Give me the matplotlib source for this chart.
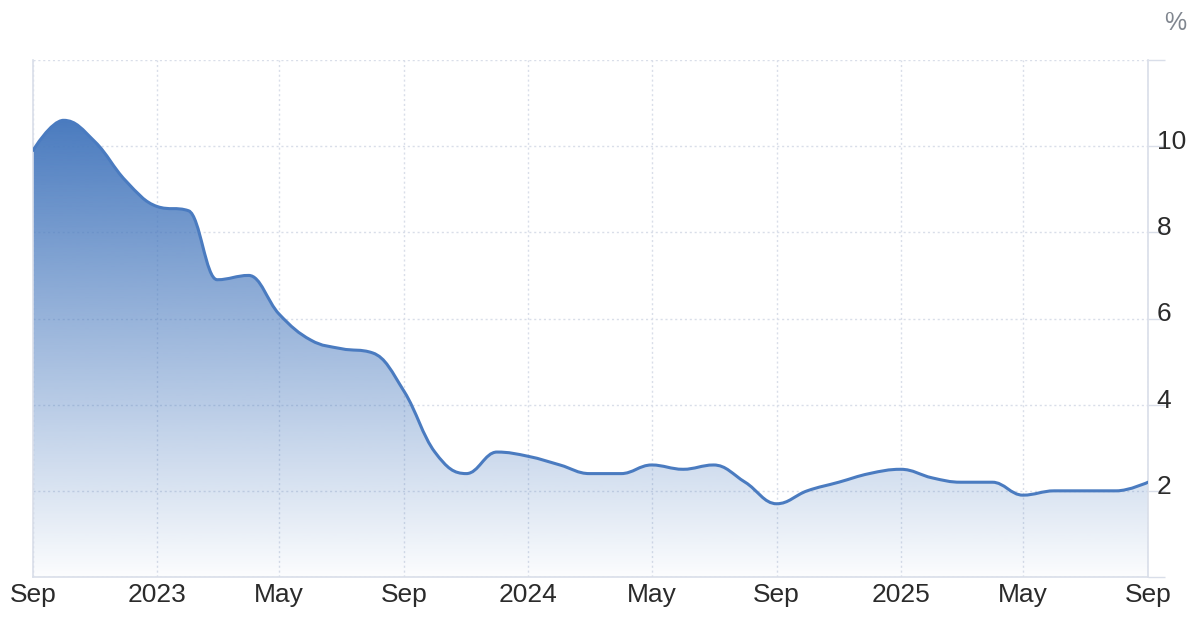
import numpy as np
import pandas as pd
import matplotlib
matplotlib.use('Agg')
import matplotlib.pyplot as plt
import matplotlib.dates as mdates
import matplotlib.transforms as mtransforms
from matplotlib.path import Path
from matplotlib.patches import PathPatch
from matplotlib.colors import to_rgb

# Data
# --------------------------------------------------------------------------
months = pd.date_range('2022-09-01', '2025-09-01', freq='MS')
rate = [9.9, 10.6, 10.1, 9.2,
        8.6, 8.5, 6.9, 7.0, 6.1, 5.5, 5.3, 5.2, 4.3, 2.9, 2.4, 2.9,
        2.8, 2.6, 2.4, 2.4, 2.6, 2.5, 2.6, 2.2, 1.7, 2.0, 2.2, 2.4,
        2.5, 2.3, 2.2, 2.2, 1.9, 2.0, 2.0, 2.0, 2.2]
tick_dates = ['2022-09-01', '2023-01-01', '2023-05-01', '2023-09-01',
              '2024-01-01', '2024-05-01', '2024-09-01', '2025-01-01',
              '2025-05-01', '2025-09-01']
tick_labels = ['Sep', '2023', 'May', 'Sep', '2024', 'May', 'Sep', '2025', 'May', 'Sep']
y_ticks = [0, 2, 4, 6, 8, 10, 12]
y_labels = ['', '2', '4', '6', '8', '10', '']
# --------------------------------------------------------------------------

line_color = '#4a7bc0'
grid_color = '#d9dee9'
text_color = '#2b2b2b'
plt.rcParams['font.family'] = ['Liberation Sans', 'DejaVu Sans']


def spline_path(x, y, smoothing=1.5):
    # smooth path through the points, control points placed like a chart spline
    n = len(x)
    denom = smoothing + 1
    lc = [None] * n
    rc = [None] * n
    for i in range(1, n - 1):
        px, py = x[i], y[i]
        lx, ly = x[i - 1], y[i - 1]
        nx, ny = x[i + 1], y[i + 1]
        lcx = (smoothing * px + lx) / denom
        lcy = (smoothing * py + ly) / denom
        rcx = (smoothing * px + nx) / denom
        rcy = (smoothing * py + ny) / denom
        corr = 0
        if rcx != lcx:
            corr = (rcy - lcy) * (rcx - px) / (rcx - lcx) + py - rcy
        lcy += corr
        rcy += corr
        if lcy > ly and lcy > py:
            lcy = max(ly, py)
            rcy = 2 * py - lcy
        elif lcy < ly and lcy < py:
            lcy = min(ly, py)
            rcy = 2 * py - lcy
        if rcy > ny and rcy > py:
            rcy = max(ny, py)
            lcy = 2 * py - rcy
        elif rcy < ny and rcy < py:
            rcy = min(ny, py)
            lcy = 2 * py - rcy
        lc[i] = (lcx, lcy)
        rc[i] = (rcx, rcy)
    verts = [(x[0], y[0])]
    codes = [Path.MOVETO]
    for i in range(1, n):
        c1 = rc[i - 1] if rc[i - 1] is not None else (x[i - 1], y[i - 1])
        c2 = lc[i] if lc[i] is not None else (x[i], y[i])
        verts += [c1, c2, (x[i], y[i])]
        codes += [Path.CURVE4] * 3
    return verts, codes


xs = mdates.date2num(months.to_pydatetime())
ys = np.array(rate, dtype=float)

fig = plt.figure(figsize=(11.96, 6.27), dpi=100)
ax = fig.add_axes([33 / 1196, 50 / 627, (1148 - 33) / 1196, (577 - 60) / 627])

verts, codes = spline_path(xs, ys)

# area with vertical gradient
area_verts = verts + [(xs[-1], 0), (xs[0], 0), (xs[0], ys[0])]
area_codes = codes + [Path.LINETO, Path.LINETO, Path.CLOSEPOLY]
area = PathPatch(Path(area_verts, area_codes), facecolor='none', edgecolor='none')
ax.add_patch(area)
r, g, b = to_rgb('#4a7bbf')
alpha = np.linspace(0.02, 1.0, 256)[:, None]
grad = np.zeros((256, 1, 4))
grad[..., 0] = r
grad[..., 1] = g
grad[..., 2] = b
grad[..., 3] = alpha
im = ax.imshow(grad, extent=[xs[0], xs[-1], 0, ys.max()], origin='lower',
               aspect='auto', interpolation='bilinear', zorder=2)
im.set_clip_path(area)

line = PathPatch(Path(verts, codes), facecolor='none', edgecolor=line_color,
                 lw=2.2, capstyle='round', joinstyle='round', zorder=3)
ax.add_patch(line)

ax.set_xlim(xs[0], xs[-1])
ax.set_ylim(0, 12)

ax.set_xticks(mdates.date2num(pd.to_datetime(tick_dates).to_pydatetime()))
ax.set_xticklabels(tick_labels)
ax.yaxis.tick_right()
ax.set_yticks(y_ticks)
ax.set_yticklabels(y_labels)
ax.tick_params(axis='x', length=0, pad=4, labelsize=19, labelcolor=text_color)
ax.tick_params(axis='y', length=12, width=1, color=grid_color, pad=-5.8,
               labelsize=19, labelcolor=text_color)
shift = mtransforms.ScaledTranslation(0, 3 / 72, fig.dpi_scale_trans)
for lab in ax.get_yticklabels():
    lab.set_verticalalignment('center')
    lab.set_transform(lab.get_transform() + shift)

ax.grid(True, color=grid_color, linestyle=(0, (1.5, 2)), linewidth=1, zorder=0)
for side in ['left', 'right', 'bottom']:
    ax.spines[side].set_color(grid_color)
    ax.spines[side].set_linewidth(1.2)
ax.spines['top'].set_visible(False)

fig.text(1175 / 1196, 1 - 23 / 627, '%', ha='center', va='center',
         fontsize=18, color='#80868f')

fig.savefig('out.png', dpi=100)
